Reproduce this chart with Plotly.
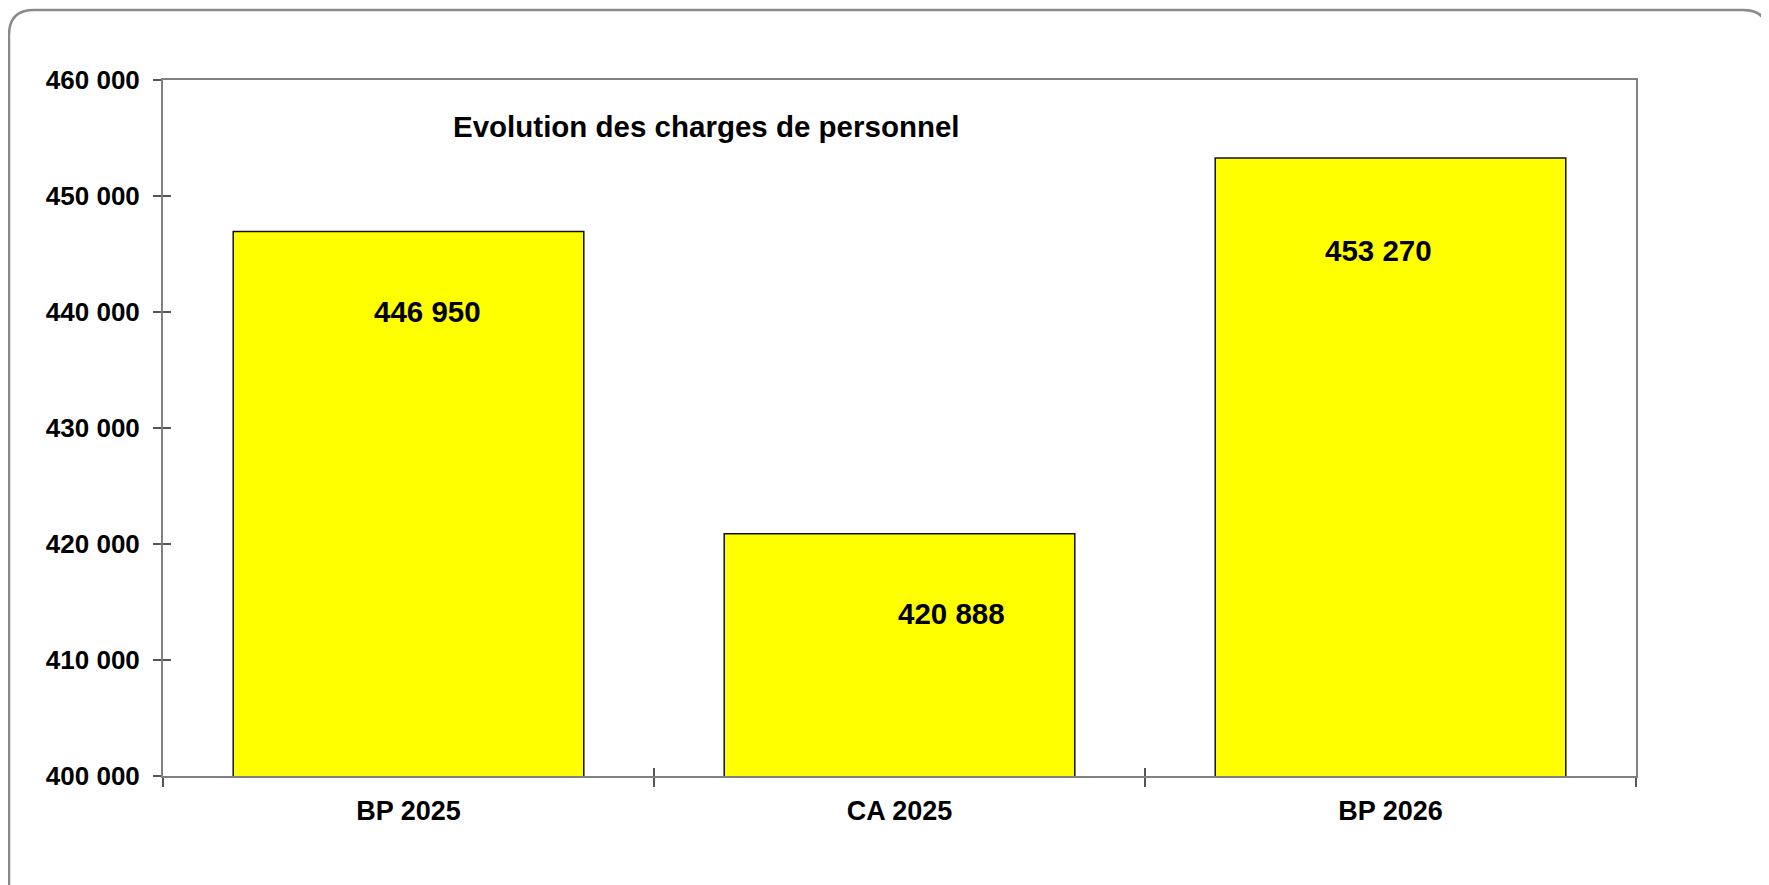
import plotly.graph_objects as go

# data
categories = ["BP 2025", "CA 2025", "BP 2026"]
charges = [446950, 420888, 453270]
value_labels = ["446 950", "420 888", "453 270"]
y_ticks = [400000, 410000, 420000, 430000, 440000, 450000, 460000]

# the page body adds 8px, so figure coords are screen coords minus 8
W, H = 1769, 885
L, R, T, B = 155, 141, 72, 117
PW, PH = W - L - R, H - T - B


def px(X):
    return (X - L) / PW


def py(Y):
    return (H - B - Y) / PH


FONT = "Liberation Sans, Arial, sans-serif"

bars = go.Bar(
    x=categories,
    y=charges,
    marker=dict(color="#FFFF00", line=dict(color="#111111", width=1.5)),
    hoverinfo="x+y",
)

# empty trace so the overlay axes (inside half of the crossing ticks) get drawn
ghost = go.Scatter(x=[], y=[], xaxis="x2", yaxis="y2", showlegend=False)

fig = go.Figure(data=[bars, ghost])

# data labels sit inside the bars, offset a bit from the bar top
label_dx = [19, 52, -12]
label_dy = [-80, -80, -92]
for cat, val, txt, dx, dy in zip(categories, charges, value_labels, label_dx, label_dy):
    fig.add_annotation(
        x=cat, y=val, text=txt, showarrow=False,
        xshift=dx, yshift=dy,
        font=dict(family=FONT, size=29.5, color="#000000", weight="bold"),
    )

fig.add_annotation(
    xref="paper", yref="paper", x=px(443), y=py(118),
    xanchor="left", yanchor="middle", showarrow=False,
    text="Evolution des charges de personnel",
    font=dict(family=FONT, size=29.5, color="#000000", weight="bold"),
)

# rounded outer frame
r = 25
frame = (
    f"M {px(1)} {py(900)} L {px(1)} {py(2 + r)} "
    f"Q {px(1)} {py(2)} {px(1 + r)} {py(2)} "
    f"L {px(1760 - r)} {py(2)} "
    f"Q {px(1760)} {py(2)} {px(1760)} {py(2 + r)} "
    f"L {px(1760)} {py(900)}"
)
fig.add_shape(type="path", xref="paper", yref="paper", path=frame,
              line=dict(color="#8a8a8a", width=2.5), layer="above")

tickfont = dict(family=FONT, size=26, color="#000000", weight="bold")

fig.update_layout(
    width=W, height=H,
    margin=dict(l=L, r=R, t=T, b=B, autoexpand=False),
    paper_bgcolor="white", plot_bgcolor="white",
    separators=", ",
    bargap=0.286,
    showlegend=False,
    xaxis=dict(
        type="category", categoryorder="array", categoryarray=categories,
        range=[-0.5, 2.5],
        showline=True, linecolor="#808080", linewidth=2, mirror=True,
        showgrid=False, zeroline=False,
        ticks="outside", tickson="boundaries", ticklen=9,
        tickcolor="#555555", tickwidth=2,
        tickfont=dict(tickfont, size=27), ticklabelstandoff=10,
        automargin=False,
    ),
    yaxis=dict(
        range=[400000, 460000], tickvals=y_ticks, tickformat=",d",
        showline=True, linecolor="#808080", linewidth=2, mirror=True,
        showgrid=False, zeroline=False,
        ticks="outside", ticklen=8, tickcolor="#555555", tickwidth=2,
        tickfont=tickfont, ticklabelstandoff=8,
        automargin=False,
    ),
    xaxis2=dict(
        overlaying="x", anchor="y2", type="category",
        categoryarray=categories, range=[-0.5, 2.5],
        tickvals=categories, ticktext=["", "", ""],
        tickson="boundaries", ticks="inside", ticklen=8,
        tickcolor="#555555", tickwidth=2,
        showline=False, showgrid=False, zeroline=False,
    ),
    yaxis2=dict(
        overlaying="y", anchor="x2", side="left",
        range=[400000, 460000], tickvals=y_ticks, showticklabels=False,
        ticks="inside", ticklen=8, tickcolor="#555555", tickwidth=2,
        showline=False, showgrid=False, zeroline=False,
    ),
)

fig.write_html("out.html")
